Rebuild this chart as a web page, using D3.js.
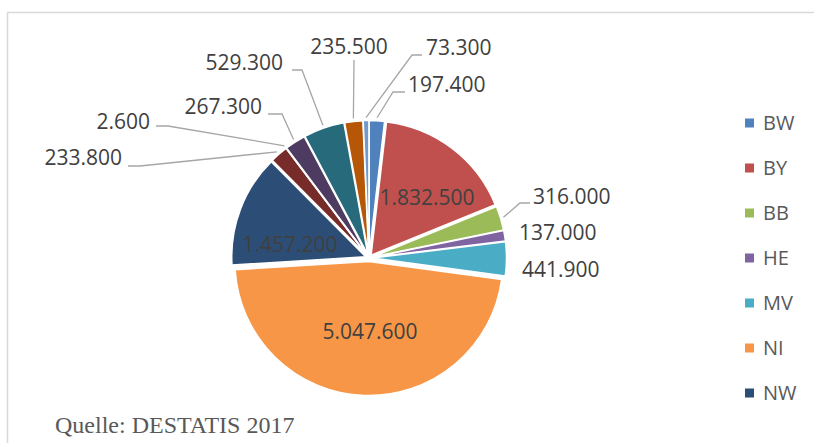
<!DOCTYPE html>
<html>
<head>
<meta charset="utf-8">
<script src="https://cdn.jsdelivr.net/npm/d3@7"></script>
<style>
  html, body { margin: 0; padding: 0; background: #fff; }
  svg { display: block; }
</style>
</head>
<body>
<svg id="chart" width="814" height="446"></svg>
<script>
// Federal states (Bundesländer) and their values
const states = ["BW", "BY", "BB", "HE", "MV", "NI", "NW", "RP", "SL", "SN", "ST", "SH", "TH"];
const values = [197400, 1832500, 316000, 137000, 441900, 5047600, 1457200, 233800, 2600, 267300, 529300, 235500, 73300];
const legendStates = ["BW", "BY", "BB", "HE", "MV", "NI", "NW"];
const colors = ["#4F81BD", "#C0504D", "#9BBB59", "#8064A2", "#4BACC6", "#F79646", "#2C4D75",
                "#772C2A", "#5F7530", "#4D3B62", "#276A7C", "#B65708", "#729ACA"];
const sourceNote = "Quelle: DESTATIS 2017";

// Label placement relative to the pie centre: inside labels, plain outside labels,
// and outside labels with a leader line (elbow + end of the horizontal stub).
const labelLayout = {
  BW: { mode: "leader", text: [39, -173], anchor: "start", elbow: [24, -166], end: [36, -166] },
  BY: { mode: "inside", text: [58, -60] },
  BB: { mode: "leader", text: [164, -61], anchor: "start", elbow: [151, -55], end: [161, -55] },
  HE: { mode: "outside", text: [150, -25], anchor: "start" },
  MV: { mode: "outside", text: [153, 12], anchor: "start" },
  NI: { mode: "inside", text: [1, 74] },
  NW: { mode: "inside", text: [-79, -13] },
  RP: { mode: "leader", text: [-247, -100], anchor: "end", elbow: [-229, -92], end: [-241, -92] },
  SL: { mode: "leader", text: [-219, -136], anchor: "end", elbow: [-201, -132], end: [-213, -132] },
  SN: { mode: "leader", text: [-107, -151], anchor: "end", elbow: [-87, -144], end: [-101, -144] },
  ST: { mode: "leader", text: [-86, -195], anchor: "end", elbow: [-67, -188], end: [-77, -188] },
  SH: { mode: "leader", text: [-20, -211], anchor: "middle", elbow: [-15, -198], end: [-15, -198] },
  TH: { mode: "leader", text: [57, -210], anchor: "start", elbow: [43, -203], end: [53, -203] }
};

const width = 814, height = 446;
const cx = 369, cy = 258;
const radius = 134;
const explode = 3.5;

const fmt = v => d3.format(",.0f")(v).replace(/,/g, ".");
const labelFont = "'Open Sans', 'Noto Sans', sans-serif";

const svg = d3.select("#chart");

// Chart area frame (left and top edges visible)
svg.append("path")
  .attr("d", `M7.5,443 L7.5,12.5 L814,12.5`)
  .attr("fill", "none")
  .attr("stroke", "#D9D9D9")
  .attr("stroke-width", 1.5);

const color = d3.scaleOrdinal().domain(states).range(colors);

const pie = d3.pie().sort(null).value(d => d.value).startAngle(0).endAngle(2 * Math.PI);
const arcs = pie(states.map((s, i) => ({ state: s, value: values[i] })));
const arc = d3.arc().innerRadius(0).outerRadius(radius);

const g = svg.append("g").attr("transform", `translate(${cx},${cy})`);

const mid = d => (d.startAngle + d.endAngle) / 2;

// Slices, each pushed slightly outward from the centre
g.selectAll("path.slice")
  .data(arcs)
  .join("path")
  .attr("class", "slice")
  .attr("d", arc)
  .attr("fill", d => color(d.data.state))
  .attr("stroke", "#fff")
  .attr("stroke-width", 1.5)
  .attr("stroke-linejoin", "round")
  .attr("transform", d => `translate(${explode * Math.sin(mid(d))},${-explode * Math.cos(mid(d))})`);

// Leader lines
g.selectAll("polyline.leader")
  .data(arcs.filter(d => labelLayout[d.data.state].mode === "leader"))
  .join("polyline")
  .attr("class", "leader")
  .attr("fill", "none")
  .attr("stroke", "#A6A6A6")
  .attr("stroke-width", 1.3)
  .attr("points", d => {
    const L = labelLayout[d.data.state];
    const a = mid(d), r = radius + explode + 3;
    const p0 = [r * Math.sin(a), -r * Math.cos(a)];
    return [p0, L.elbow, L.end].map(p => p.join(",")).join(" ");
  });

// Value labels
g.selectAll("text.value")
  .data(arcs)
  .join("text")
  .attr("class", "value")
  .attr("x", d => labelLayout[d.data.state].text[0])
  .attr("y", d => labelLayout[d.data.state].text[1])
  .attr("dy", "0.35em")
  .attr("text-anchor", d => labelLayout[d.data.state].anchor || "middle")
  .attr("font-family", labelFont)
  .attr("font-size", 21)
  .attr("fill", "#404040")
  .text(d => fmt(d.data.value));

// Legend
const legendY = d3.scalePoint().domain(legendStates).range([123, 393]);
const legend = svg.append("g");
const items = legend.selectAll("g")
  .data(legendStates)
  .join("g")
  .attr("transform", d => `translate(745,${legendY(d)})`);
items.append("rect")
  .attr("x", 0).attr("y", -4.5)
  .attr("width", 9).attr("height", 9)
  .attr("fill", d => color(d));
items.append("text")
  .attr("x", 18).attr("y", 0).attr("dy", "0.35em")
  .attr("font-family", labelFont)
  .attr("font-size", 20)
  .attr("fill", "#595959")
  .text(d => d);

// Source note
svg.append("text")
  .attr("x", 55).attr("y", 433)
  .attr("font-family", "'Liberation Serif', 'Times New Roman', serif")
  .attr("font-size", 24)
  .attr("fill", "#595959")
  .text(sourceNote);
</script>
</body>
</html>
